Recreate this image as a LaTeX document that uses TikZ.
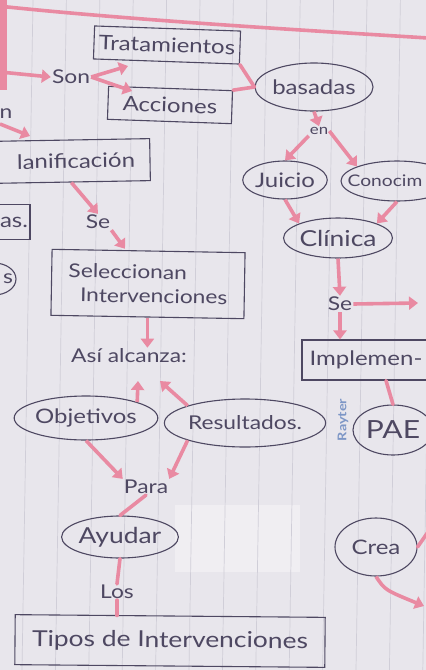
\documentclass[tikz,border=0pt]{standalone}
\usepackage{fontspec}
\setmainfont{Lato}[FakeStretch=1.2]
\usetikzlibrary{arrows.meta,shapes.geometric}
\definecolor{paper}{HTML}{E8E6EC}
\definecolor{rule}{HTML}{D0CED8}
\definecolor{pk}{HTML}{E98AA2}
\definecolor{ink}{HTML}{4E4862}
\definecolor{brand}{HTML}{7D96C6}
\tikzset{
  box/.style={draw=ink, line width=1.1pt, rectangle, text=ink, font=\fontsize{20}{23}\selectfont, inner sep=2pt},
  oval/.style={draw=ink, line width=1.1pt, ellipse, text=ink, font=\fontsize{20}{23}\selectfont, inner sep=0pt},
  lbl/.style={text=ink, font=\fontsize{19}{22}\selectfont, inner sep=1pt},
  parrow/.style={draw=pk, line width=3.6pt, -{Triangle[length=9pt,width=13pt]}},
  pline/.style={draw=pk, line width=3.6pt, line cap=round},
}
\begin{document}
\begin{tikzpicture}[x=1pt,y=-1pt]
\useasboundingbox (0,0) rectangle (426,670);
\fill[paper] (0,0) rectangle (426,670);
\fill[white, opacity=0.35] (175,505) rectangle (300,572);
% ruled lines
\foreach \k in {-1,0,...,12}{
  \draw[rule, line width=0.7pt] ({33+33.4*\k},0) -- ({22+33.4*\k},670);
}
% top pink margin
\draw[pline] (-2,6) .. controls (130,20) and (300,30) .. (428,38);
\draw[draw=pk, line width=7pt] (3,-2) -- (3,90);

% nodes
\node[box, minimum width=146, minimum height=33, rotate=-2] (trat) at (167,45) {Tratamientos};
\node[lbl] (son) at (71,77) {Son};
\node[box, minimum width=124, minimum height=33, rotate=-2] (acc) at (170,105) {Acciones};
\node[oval, minimum width=110, minimum height=48] (bas) at (314,87) {basadas};
\node[lbl, font=\fontsize{14}{16}\selectfont] (en) at (319,131) {en};
\node[oval, minimum width=78, minimum height=38] (juicio) at (285,180) {Juicio};
\node[oval, minimum width=112, minimum height=40, font=\fontsize{16}{19}\selectfont] (conoc) at (397,181) {\hspace*{-24pt}Conocim};
\node[oval, minimum width=98, minimum height=40, font=\fontsize{22}{24}\selectfont] (clin) at (338,238) {Clínica};
\node[lbl] (se2) at (340,304) {Se};
\node[box, minimum width=140, minimum height=40] (impl) at (372,360) {\hspace*{-12pt}Implemen-};
\node[text=brand, font=\bfseries\fontsize{12}{13}\selectfont, rotate=90] (rayter) at (343,420) {Rayter};
\node[oval, minimum width=80, minimum height=50, font=\fontsize{25}{27}\selectfont] (pae) at (393,430) {PAE};
\node[oval, minimum width=82, minimum height=58] (crea) at (376,547) {Crea};

\node[lbl] (nfrag) at (6,114) {n};
\node[box, minimum width=158, minimum height=42, rotate=1] (plan) at (71,161) {lanificación\hspace*{-10pt}};
\node[lbl] (se1) at (98,222) {Se};
\node[box, minimum width=44, minimum height=35] (asbox) at (8,222) {\hspace*{12pt}as.};
\node[oval, minimum width=44, minimum height=32] (sov) at (-6,279) {};
\node[lbl] (sfrag) at (8,279) {s};
\node[box, minimum width=193, minimum height=66, align=left, rotate=-1, font=\fontsize{19}{24}\selectfont] (sel) at (148,284) {Seleccionan\\\hspace*{12pt}Intervenciones};
\node[lbl] (asi) at (129,356) {Así alcanza:};
\node[oval, minimum width=136, minimum height=44] (obj) at (86,418) {Objetivos};
\node[oval, minimum width=130, minimum height=48, font=\fontsize{19}{22}\selectfont] (res) at (245,423) {Resultados.};
\node[lbl] (para) at (146,487) {Para};
\node[oval, minimum width=108, minimum height=42, font=\fontsize{22}{24}\selectfont] (ayu) at (120,537) {Ayudar};
\node[lbl] (los) at (117,592) {Los};
\node[box, minimum width=310, minimum height=50, rotate=-0.5, font=\fontsize{22}{24}\selectfont] (tipos) at (170,641) {Tipos de Intervenciones};

% free ends
\coordinate (lftA) at (0,72);
\coordinate (lftB) at (0,124);
\coordinate (seR) at (418,303);
\coordinate (creaR) at (428,532);
\coordinate (creaD) at (424,606);
\coordinate (jL) at (138,381);
\coordinate (jR) at (160,381);
\coordinate (tA) at (128,66);
\coordinate (aA) at (132,91);
\coordinate (planTL) at (30,136);

% connectors
\draw[parrow] (lftA) -- (son.west);
\draw[parrow] (son.east) -- (tA);
\draw[parrow] (son.east) -- (aA);
\draw[parrow] (lftB) -- (planTL);
\draw[pline] (trat.south east) -- (bas.west);
\draw[pline] (acc.north east) -- (bas.west);
\draw[parrow] (bas.south) -- (en.north);
\draw[parrow] (en.south west) -- (juicio.north);
\draw[parrow] (en.east) -- (conoc.north west);
\draw[parrow] (juicio.south) -- (clin.north west);
\draw[parrow] (conoc.south) -- (clin.north east);
\draw[parrow] (clin.south) -- (se2.north);
\draw[parrow] (se2.east) -- (seR);
\draw[parrow] (se2.south) -- (impl.north west -| se2.south);
\draw[pline] (impl.south -| 386,0) -- (pae.north);
\draw[pline] (crea.east) -- (creaR);
\draw[parrow] (crea.south) .. controls (385,590) .. (creaD);
\draw[parrow] (plan.south) -- (se1.north);
\draw[parrow] (se1.south east) -- (sel.north west -| 125,0);
\draw[parrow] (sel.south) -- (asi.north -| sel.south);
\draw[parrow] (obj.north east) -- (jL);
\draw[parrow] (res.north west) -- (jR);
\draw[parrow] (obj.south) -- (para.north west);
\draw[parrow] (res.south west) -- (para.north east);
\draw[pline] (para.south) -- (ayu.north);
\draw[pline] (ayu.south) -- (los.north);
\draw[pline] (los.south) -- (tipos.north -| los.south);
\end{tikzpicture}
\end{document}
